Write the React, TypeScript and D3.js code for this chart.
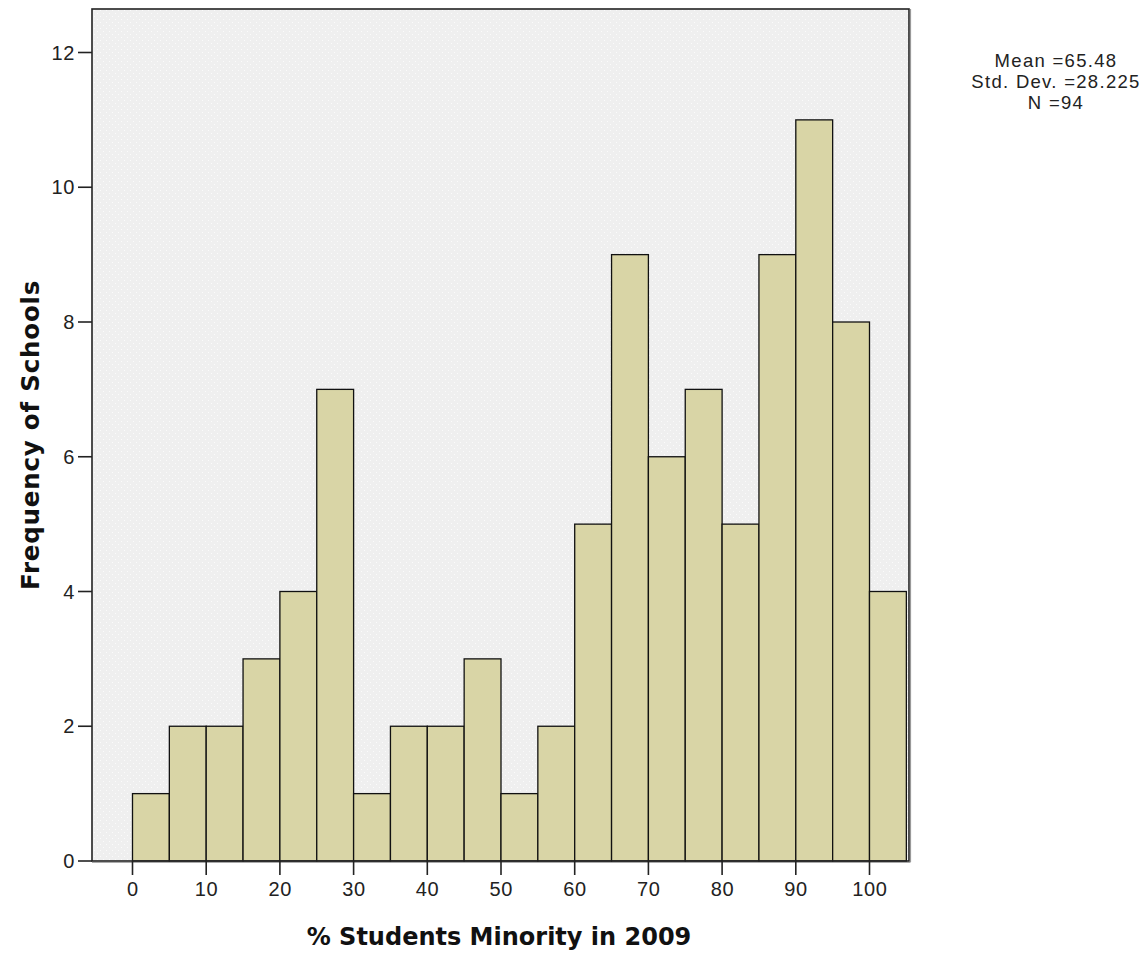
import React from "react";
import * as d3 from "d3";

const binStarts = [0, 5, 10, 15, 20, 25, 30, 35, 40, 45, 50, 55, 60, 65, 70, 75, 80, 85, 90, 95, 100];
const binWidth = 5;
const frequencies = [1, 2, 2, 3, 4, 7, 1, 2, 2, 3, 1, 2, 5, 9, 6, 7, 5, 9, 11, 8, 4];
const xTicks = [0, 10, 20, 30, 40, 50, 60, 70, 80, 90, 100];
const yTicks = [0, 2, 4, 6, 8, 10, 12];
const statsLines = ["Mean =65.48", "Std. Dev. =28.225", "N =94"];
const xTitle = "% Students Minority in 2009";
const yTitle = "Frequency of Schools";

export default function App() {
  const W = 1147, H = 953;
  const frame = { left: 92, right: 909, top: 9, bottom: 861 };
  const x = d3.scaleLinear().domain([0, 100]).range([132.5, 869.5]);
  const y = d3.scaleLinear().domain([0, 12]).range([861, 52.5]);
  const tickFont = "'Liberation Sans', Arial, sans-serif";
  const titleFont = "'DejaVu Sans', Verdana, sans-serif";

  return (
    <div style={{ position: "absolute", left: 0, top: 0 }}>
      <svg width={W} height={H} style={{ display: "block", background: "#fff" }}>
        <defs>
          <pattern id="dots" width="6" height="6" patternUnits="userSpaceOnUse">
            <rect width="6" height="6" fill="#efefef" />
            <rect x="1" y="1" width="1" height="1" fill="#fbfbfb" />
            <rect x="4" y="4" width="1" height="1" fill="#fbfbfb" />
          </pattern>
        </defs>
        <rect
          x={frame.left}
          y={frame.top}
          width={frame.right - frame.left}
          height={frame.bottom - frame.top}
          fill="url(#dots)"
        />
        {frequencies.map((f, i) => {
          const x0 = x(binStarts[i]);
          const x1 = x(binStarts[i] + binWidth);
          return (
            <rect
              key={i}
              x={x0}
              y={y(f)}
              width={x1 - x0}
              height={y(0) - y(f)}
              fill="#d9d5a6"
              stroke="#111"
              strokeWidth={1.3}
            />
          );
        })}
        {/* frame */}
        <rect
          x={frame.left}
          y={frame.top}
          width={frame.right - frame.left}
          height={frame.bottom - frame.top}
          fill="none"
          stroke="#222"
          strokeWidth={1.6}
        />
        <line x1={frame.right + 1.5} x2={frame.right + 1.5} y1={frame.top} y2={frame.bottom + 1} stroke="#999" strokeWidth={1.2} />
        <line x1={frame.left} x2={frame.right + 1.5} y1={frame.bottom + 1.5} y2={frame.bottom + 1.5} stroke="#aaa" strokeWidth={1} />
        {/* y axis */}
        {yTicks.map((t) => (
          <g key={t}>
            <line x1={78} x2={frame.left} y1={y(t)} y2={y(t)} stroke="#222" strokeWidth={1.6} />
            <text
              x={75}
              y={y(t)}
              dy="0.36em"
              textAnchor="end"
              fontFamily={tickFont}
              fontSize={20}
              letterSpacing={0.6}
              fill="#222"
            >
              {t}
            </text>
          </g>
        ))}
        {/* x axis */}
        {xTicks.map((t) => (
          <g key={t}>
            <line x1={x(t)} x2={x(t)} y1={frame.bottom} y2={875} stroke="#222" strokeWidth={1.6} />
            <text
              x={x(t) + 0.3}
              y={896}
              textAnchor="middle"
              fontFamily={tickFont}
              fontSize={20}
              letterSpacing={0.6}
              fill="#222"
            >
              {t}
            </text>
          </g>
        ))}
        <text
          x={499}
          y={945}
          textAnchor="middle"
          fontFamily={titleFont}
          fontWeight="bold"
          fontSize={24}
          fill="#111"
        >
          {xTitle}
        </text>
        <text
          transform={`translate(39, 435) rotate(-90)`}
          textAnchor="middle"
          fontFamily={titleFont}
          fontWeight="bold"
          fontSize={24.5}
          letterSpacing={0.8}
          fill="#111"
        >
          {yTitle}
        </text>
        {statsLines.map((s, i) => (
          <text
            key={s}
            x={1056}
            y={67 + i * 21}
            textAnchor="middle"
            fontFamily={tickFont}
            fontSize={18.5}
            letterSpacing={1.3}
            fill="#222"
          >
            {s}
          </text>
        ))}
      </svg>
    </div>
  );
}
